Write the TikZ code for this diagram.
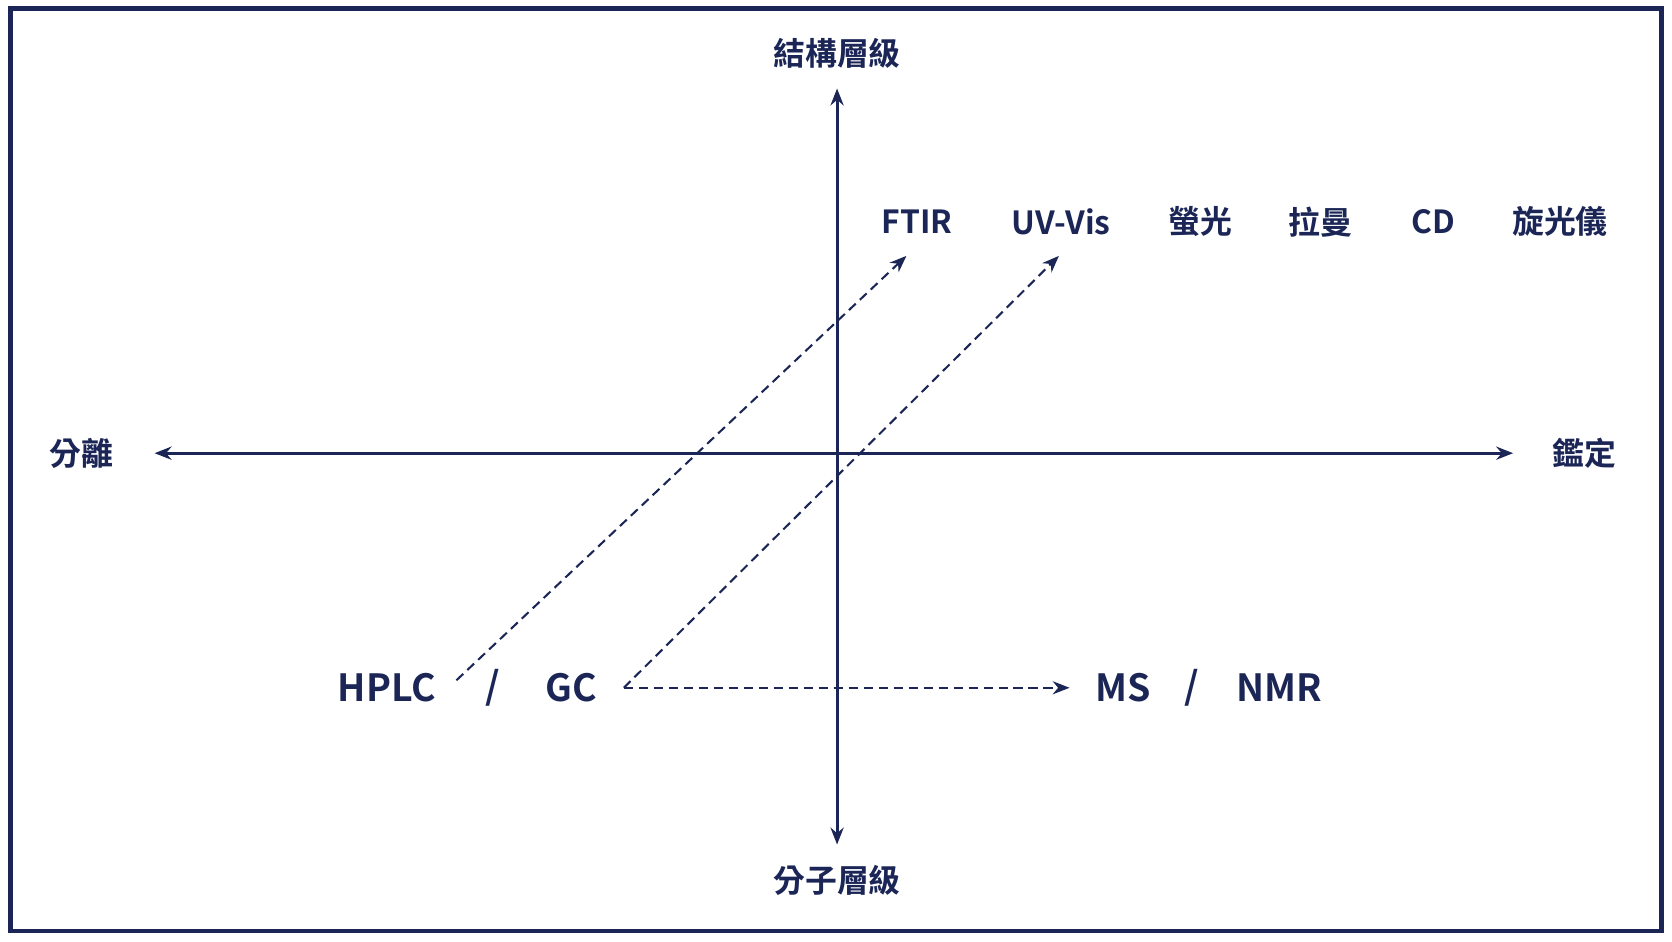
\documentclass[tikz,border=0pt]{standalone}
\usepackage{fontspec}
\setmainfont{Noto Sans CJK TC}[BoldFont={* Bold}]
\usepackage{tikz}
\usetikzlibrary{arrows.meta}
\definecolor{navy}{HTML}{1B2656}

\begin{document}
\begin{tikzpicture}[x=0.02cm,y=-0.02cm,>={Stealth[length=9pt,width=7pt]},
  every node/.style={text=navy,font=\bfseries\fontsize{17}{20}\selectfont},
  axis/.style={navy,line width=1.6pt},
  link/.style={navy,line width=1.1pt,dash pattern=on 5pt off 3pt,->}]
  \useasboundingbox (0,0) rectangle (1568,882.5);
  \draw[navy,line width=2.4pt] (10,8) rectangle (1558,873);

  \node (top)    at (785,50)  {結構層級};
  \node (bottom) at (785,826) {分子層級};
  \node (sep)    at (76,425)  {分離};
  \node (ident)  at (1486,425){鑑定};
  \coordinate (vt) at (785,83);
  \coordinate (vb) at (785,792);
  \coordinate (hl) at (145,425);
  \coordinate (hr) at (1419,425);
  \draw[axis,<->] (vb) -- (vt);
  \draw[axis,<->] (hl) -- (hr);

  \node (ftir)  at (860,208)  {FTIR};
  \node (uvvis) at (995,208)  {UV-Vis};
  \node (fluo)  at (1126,208) {螢光};
  \node (raman) at (1238,208) {拉曼};
  \node (cd)    at (1344,208) {CD};
  \node (opt)   at (1463,208) {旋光儀};

  \node (hplc)  at (363,645)  {\fontsize{20}{24}\selectfont HPLC};
  \node (s1)    at (462,645)  {\fontsize{20}{24}\selectfont /};
  \node (gc)    at (536,645)  {\fontsize{20}{24}\selectfont GC};
  \node (ms)    at (1053,645) {\fontsize{20}{24}\selectfont MS};
  \node (s2)    at (1118,645) {\fontsize{20}{24}\selectfont /};
  \node (nmr)   at (1200,645) {\fontsize{20}{24}\selectfont NMR};

  \coordinate (a1) at (428,638);
  \coordinate (a2) at (585,645);
  \coordinate (e1) at (850,240);
  \coordinate (e2) at (993,240);
  \coordinate (e3) at (1003,645);
  \draw[link] (a1) -- (e1);
  \draw[link] (a2) -- (e2);
  \draw[link] (a2) -- (e3);
\end{tikzpicture}
\end{document}
